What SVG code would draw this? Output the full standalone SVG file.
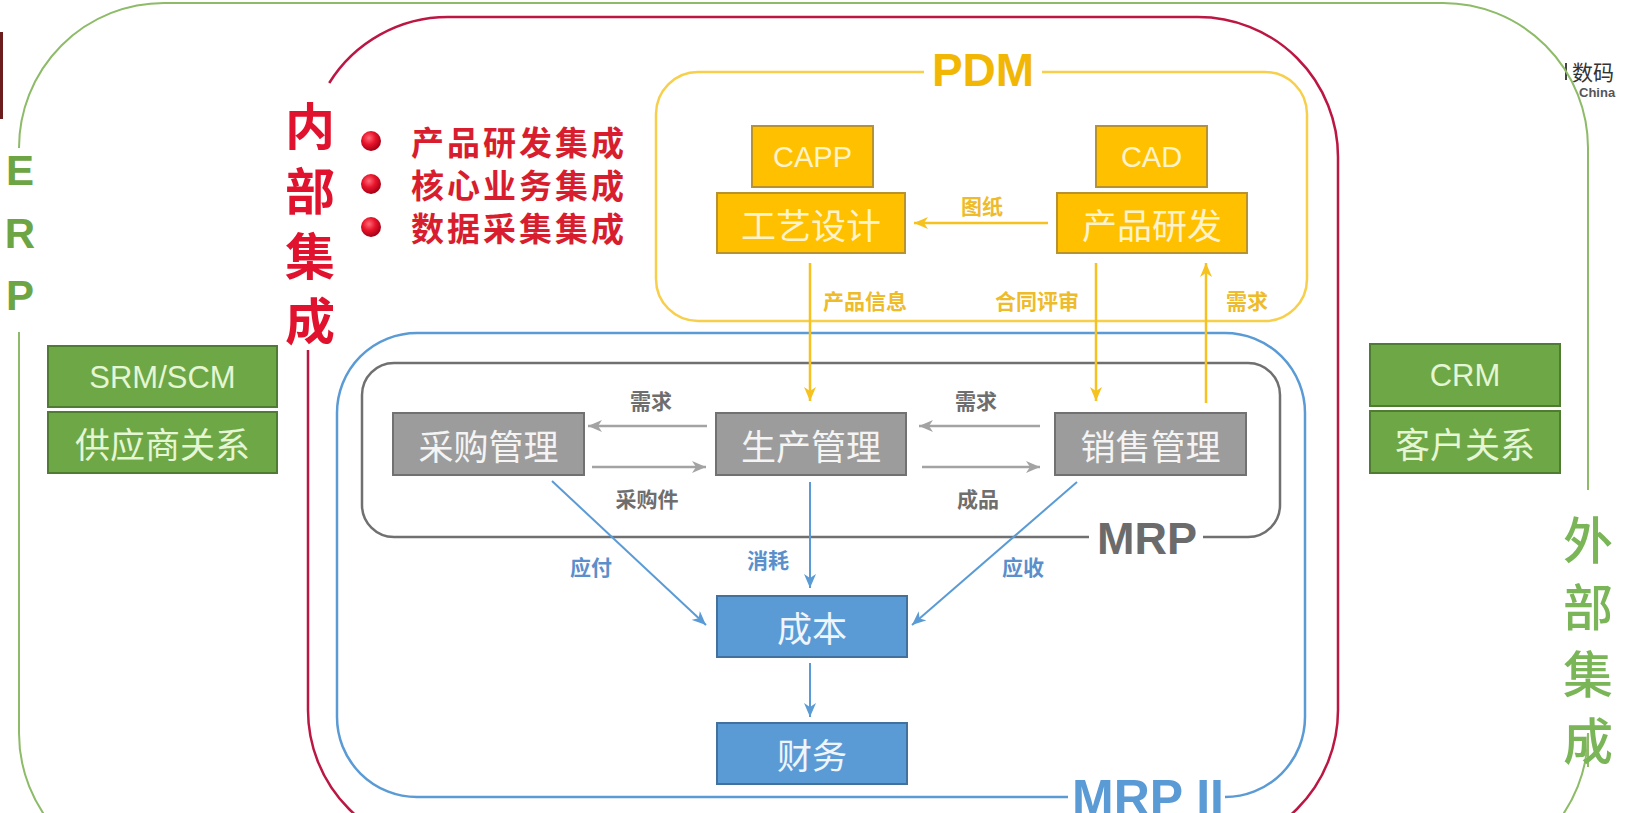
<svg xmlns="http://www.w3.org/2000/svg" width="1633" height="813" viewBox="0 0 1633 813">
<defs>
<style>
.cjk{font-family:"Noto Sans CJK SC","Noto Sans",sans-serif;}
.lat{font-family:"Liberation Sans",Arial,sans-serif;}
.mid{text-anchor:middle;dominant-baseline:central;}
.by{fill:#FFC000;stroke:#B8922E;stroke-width:2;}
.bg{fill:#9C9C9C;stroke:#717171;stroke-width:2;}
.bb{fill:#5B9BD5;stroke:#41719C;stroke-width:2;}
.bgr{fill:#6EA745;stroke:#4F7B33;stroke-width:2;}
.ty{fill:#FFF3CC;}
.tg{fill:#F4F4F4;}
.tb{fill:#EEF5FC;}
.tgr{fill:#E4F6D4;}
.ly{stroke:#F6C21F;stroke-width:2.5;fill:none;}
.lg{stroke:#A3A3A3;stroke-width:2.5;fill:none;}
.lb{stroke:#5B9BD5;stroke-width:2;fill:none;}
.ay{fill:#EEBB2A;font-weight:700;font-size:21px;}
.ag{fill:#6E6E6E;font-weight:700;font-size:21px;}
.ab{fill:#5B8FCB;font-weight:700;font-size:21px;}
</style>
<marker id="ah-y" markerUnits="userSpaceOnUse" markerWidth="14" markerHeight="12" refX="14" refY="6" orient="auto"><path d="M0,0 L14,6 L0,12 L4,6 Z" fill="#F6C21F"/></marker>
<marker id="ah-g" markerUnits="userSpaceOnUse" markerWidth="14" markerHeight="12" refX="14" refY="6" orient="auto"><path d="M0,0 L14,6 L0,12 L4,6 Z" fill="#A3A3A3"/></marker>
<marker id="ah-b" markerUnits="userSpaceOnUse" markerWidth="14" markerHeight="12" refX="14" refY="6" orient="auto"><path d="M0,0 L14,6 L0,12 L4,6 Z" fill="#5B9BD5"/></marker>
<radialGradient id="dot" cx="40%" cy="35%" r="65%"><stop offset="0" stop-color="#FF6A78"/><stop offset="0.5" stop-color="#E8142B"/><stop offset="1" stop-color="#A30016"/></radialGradient>
</defs>
<rect x="0" y="0" width="1633" height="813" fill="#FFFFFF"/>
<rect x="0" y="32" width="3" height="87" fill="#6B1C1C"/>
<g id="watermark">
<rect x="1565" y="63" width="2" height="17" fill="#444"/>
<text class="cjk" x="1572" y="80" font-size="21" fill="#333">数码</text>
<text class="lat" x="1579" y="97" font-size="13" font-weight="700" fill="#555">China</text>
</g>
<g id="frames">
<path id="erp-frame" fill="none" stroke="#8DBB68" stroke-width="2" d="M19,332 L19,733 A145,145 0 0 0 164,878 L1443,878 A145,145 0 0 0 1588,733 L1588,767 M1588,490 L1588,148 A145,145 0 0 0 1443,3 L164,3 A145,145 0 0 0 19,148"/>
<path id="internal-frame" fill="none" stroke="#BC1742" stroke-width="2.5" d="M308,350 L308,710 A140,140 0 0 0 448,850 L1198,850 A140,140 0 0 0 1338,710 L1338,157 A140,140 0 0 0 1198,17 L448,17 A140,140 0 0 0 329.2,83"/>
<path id="pdm-frame" fill="none" stroke="#F7CF4A" stroke-width="2.5" d="M1042,72 L1265,72 A42,42 0 0 1 1307,114 L1307,279 A42,42 0 0 1 1265,321 L698,321 A42,42 0 0 1 656,279 L656,114 A42,42 0 0 1 698,72 L924,72"/>
<path id="mrp2-frame" fill="none" stroke="#5B9BD5" stroke-width="2.5" d="M1068,797 L417,797 A80,80 0 0 1 337,717 L337,413 A80,80 0 0 1 417,333 L1225,333 A80,80 0 0 1 1305,413 L1305,717 A80,80 0 0 1 1225,797"/>
<path id="mrp-frame" fill="none" stroke="#707070" stroke-width="2.5" d="M1089,537 L394,537 A32,32 0 0 1 362,505 L362,395 A32,32 0 0 1 394,363 L1248,363 A32,32 0 0 1 1280,395 L1280,505 A32,32 0 0 1 1248,537 L1203,537"/>
</g>
<g id="frame-labels">
<g class="lat" font-weight="700" font-size="42" fill="#6DA544" text-anchor="middle">
<text x="20" y="185">E</text>
<text x="20" y="248">R</text>
<text x="20" y="310">P</text>
</g>
<g class="cjk mid" font-size="50" font-weight="700" fill="#E0122E">
<text x="310" y="123">内</text>
<text x="310" y="188">部</text>
<text x="310" y="253">集</text>
<text x="310" y="318">成</text>
</g>
<g class="cjk mid" font-size="50" font-weight="500" fill="#7AB558">
<text x="1588" y="537">外</text>
<text x="1588" y="604">部</text>
<text x="1588" y="671">集</text>
<text x="1588" y="738">成</text>
</g>
<text class="lat" x="983" y="86" font-size="46" font-weight="700" fill="#F2B705" text-anchor="middle">PDM</text>
<text class="lat" x="1147" y="554" font-size="45" font-weight="700" fill="#6B6B6B" text-anchor="middle">MRP</text>
<text class="lat" x="1148" y="815" font-size="50" font-weight="700" fill="#5B9BD5" text-anchor="middle">MRP II</text>
</g>
<g id="bullets">
<circle cx="371" cy="141" r="10" fill="url(#dot)"/>
<circle cx="371" cy="184" r="10" fill="url(#dot)"/>
<circle cx="371" cy="227" r="10" fill="url(#dot)"/>
<g class="cjk" font-size="33" font-weight="700" fill="#D81E2E" dominant-baseline="central" letter-spacing="3">
<text x="411" y="141">产品研发集成</text>
<text x="411" y="184">核心业务集成</text>
<text x="411" y="227">数据采集集成</text>
</g>
</g>
<g id="connectors">
<line class="ly" x1="1048" y1="223" x2="914" y2="223" marker-end="url(#ah-y)"/>
<line class="ly" x1="810" y1="263" x2="810" y2="401" marker-end="url(#ah-y)"/>
<line class="ly" x1="1096" y1="263" x2="1096" y2="401" marker-end="url(#ah-y)"/>
<line class="ly" x1="1206" y1="403" x2="1206" y2="263" marker-end="url(#ah-y)"/>
<line class="lg" x1="707" y1="426" x2="588" y2="426" marker-end="url(#ah-g)"/>
<line class="lg" x1="592" y1="467" x2="706" y2="467" marker-end="url(#ah-g)"/>
<line class="lg" x1="1040" y1="426" x2="919" y2="426" marker-end="url(#ah-g)"/>
<line class="lg" x1="922" y1="467" x2="1040" y2="467" marker-end="url(#ah-g)"/>
<line class="lb" x1="552" y1="481" x2="706" y2="625" marker-end="url(#ah-b)"/>
<line class="lb" x1="810" y1="482" x2="810" y2="588" marker-end="url(#ah-b)"/>
<line class="lb" x1="1077" y1="482" x2="912" y2="625" marker-end="url(#ah-b)"/>
<line class="lb" x1="810" y1="663" x2="810" y2="717" marker-end="url(#ah-b)"/>
<g class="cjk mid">
<text class="ay" x="982" y="205">图纸</text>
<text class="ay" x="865" y="300">产品信息</text>
<text class="ay" x="1037" y="300">合同评审</text>
<text class="ay" x="1247" y="300">需求</text>
<text class="ag" x="651" y="400">需求</text>
<text class="ag" x="647" y="498">采购件</text>
<text class="ag" x="976" y="400">需求</text>
<text class="ag" x="978" y="498">成品</text>
<text class="ab" x="591" y="566">应付</text>
<text class="ab" x="768" y="559">消耗</text>
<text class="ab" x="1023" y="566">应收</text>
</g>
</g>
<g id="capp"><rect class="by" x="752" y="126" width="121" height="61"/><text class="lat mid ty" x="812.5" y="157" font-size="29">CAPP</text></g>
<g id="cad"><rect class="by" x="1096" y="126" width="111" height="61"/><text class="lat mid ty" x="1151.5" y="157" font-size="29">CAD</text></g>
<g id="process-design"><rect class="by" x="717" y="193" width="188" height="60"/><text class="cjk mid ty" x="811" y="223" font-size="35">工艺设计</text></g>
<g id="product-rd"><rect class="by" x="1057" y="193" width="190" height="60"/><text class="cjk mid ty" x="1152" y="223" font-size="35">产品研发</text></g>
<g id="purchasing"><rect class="bg" x="393" y="413" width="191" height="62"/><text class="cjk mid tg" x="488.5" y="444" font-size="35">采购管理</text></g>
<g id="production"><rect class="bg" x="716" y="413" width="190" height="62"/><text class="cjk mid tg" x="811" y="444" font-size="35">生产管理</text></g>
<g id="sales"><rect class="bg" x="1055" y="413" width="191" height="62"/><text class="cjk mid tg" x="1150.5" y="444" font-size="35">销售管理</text></g>
<g id="cost"><rect class="bb" x="717" y="596" width="190" height="61"/><text class="cjk mid tb" x="812" y="626.5" font-size="35">成本</text></g>
<g id="finance"><rect class="bb" x="717" y="723" width="190" height="61"/><text class="cjk mid tb" x="812" y="753.5" font-size="35">财务</text></g>
<g id="srm"><rect class="bgr" x="48" y="346" width="229" height="61"/><text class="lat mid tgr" x="162.5" y="377" font-size="31">SRM/SCM</text></g>
<g id="supplier"><rect class="bgr" x="48" y="412" width="229" height="61"/><text class="cjk mid tgr" x="162.5" y="442.5" font-size="35">供应商关系</text></g>
<g id="crm"><rect class="bgr" x="1370" y="344" width="190" height="62"/><text class="lat mid tgr" x="1465" y="375" font-size="31">CRM</text></g>
<g id="customer"><rect class="bgr" x="1370" y="411" width="190" height="62"/><text class="cjk mid tgr" x="1465" y="442" font-size="35">客户关系</text></g>
</svg>
